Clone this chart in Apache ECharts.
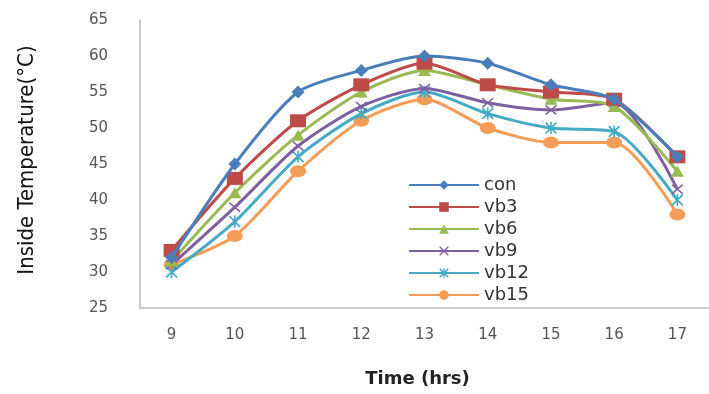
<!DOCTYPE html>
<html>
<head>
<meta charset="utf-8">
<script src="https://cdn.jsdelivr.net/npm/echarts@6/dist/echarts.min.js"></script>
<style>html,body{margin:0;padding:0;background:#fff;}#c{width:709px;height:394px;}</style>
</head>
<body>
<div id="c"></div>
<script>
const hours = ['9','10','11','12','13','14','15','16','17'];
const con  = [32, 45, 55, 58, 60, 59, 56, 54, 46];
const vb3  = [33, 43, 51, 56, 59, 56, 55, 54, 46];
const vb6  = [31.5, 41, 49, 55, 58, 56, 54, 53, 44];
const vb9  = [31, 39, 47.5, 53, 55.5, 53.5, 52.5, 53.5, 41.5];
const vb12 = [30, 37, 46, 52, 55, 52, 50, 49.5, 40];
const vb15 = [31, 35, 44, 51, 54, 50, 48, 48, 38];
const seriesNames = ['con','vb3','vb6','vb9','vb12','vb15'];
const seriesData = [con, vb3, vb6, vb9, vb12, vb15];

const colors = ['#4a7ebb','#be4b48','#98b954','#7d60a0','#46aac5','#f59d56'];
const xPath = 'path://M0,1 L1,0 L5,4 L9,0 L10,1 L6,5 L10,9 L9,10 L5,6 L1,10 L0,9 L4,5 Z';
const starPath = 'path://M0,1 L1,0 L4.3,3.3 L4.3,0 L5.7,0 L5.7,3.3 L9,0 L10,1 L6,5 L10,9 L9,10 L5.7,6.7 L5.7,10 L4.3,10 L4.3,6.7 L1,10 L0,9 L4,5 Z';
const symbols = ['diamond','rect','triangle',xPath,starPath,'circle'];
const sizes = [[13,13],[16,13],[13,11],[12,10],[12,12],[16,12]];

const chart = echarts.init(document.getElementById('c'));
chart.setOption({
  animation:false,
  backgroundColor:'#fff',
  color: colors,
  grid:{left:140, top:20, width:585, bottom:86, containLabel:false},
  legend:{
    orient:'vertical', left:403, top:171,
    itemWidth:70, itemHeight:12, itemGap:4,
    textStyle:{fontSize:18, color:'#333', fontFamily:'DejaVu Sans'},
    data: seriesNames
  },
  xAxis:{
    type:'category', data:hours, boundaryGap:true,
    axisLine:{lineStyle:{color:'#bbb', width:1.5}},
    axisTick:{show:false},
    axisLabel:{fontSize:15, color:'#555', margin:20, fontFamily:'DejaVu Sans'},
    name:'Time (hrs)', nameLocation:'middle', nameGap:62,
    nameTextStyle:{fontSize:18, fontWeight:'bold', color:'#222', fontFamily:'DejaVu Sans', padding:[0,0,0,-14]}
  },
  yAxis:{
    type:'value', min:25, max:65, interval:5,
    splitLine:{show:false},
    axisLine:{show:true, lineStyle:{color:'#bbb', width:1.5}},
    axisTick:{show:false},
    axisLabel:{fontSize:15, color:'#555', margin:32, fontFamily:'DejaVu Sans'},
    name:'Inside Temperature(°C)', nameLocation:'middle', nameGap:102, nameRotate:90,
    nameTextStyle:{fontSize:22, color:'#111', fontFamily:'DejaVu Sans Condensed, DejaVu Sans', padding:[0,0,0,8]}
  },
  series: seriesNames.map((n,i)=>({
    name:n, type:'line', data:seriesData[i], smooth:0.25,
    symbol:symbols[i], symbolSize:sizes[i],
    lineStyle:{width:3, color:colors[i]},
    itemStyle:{color:colors[i]},
    z: 10 - i
  }))
});
</script>
</body>
</html>
